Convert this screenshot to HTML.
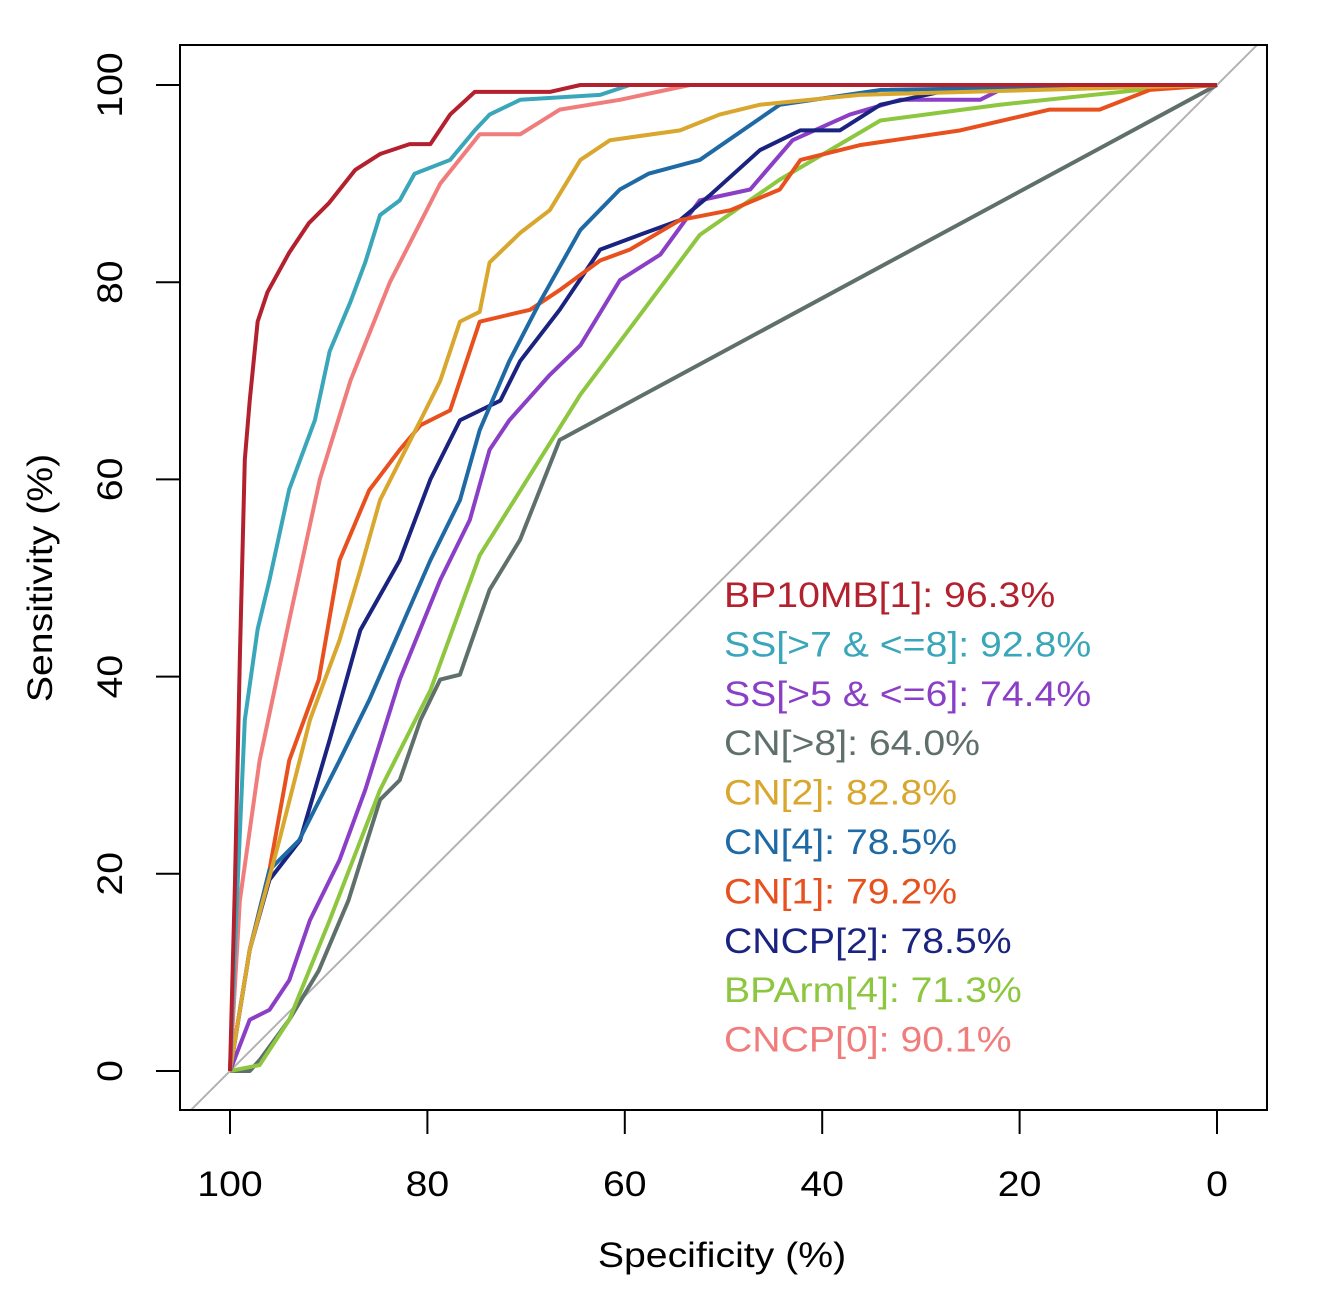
<!DOCTYPE html>
<html><head><meta charset="utf-8"><style>
html,body{margin:0;padding:0;background:#fff;}
svg text{font-family:"Liberation Sans",sans-serif;}
</style></head><body>
<svg id="chart" width="1320" height="1295" viewBox="0 0 1320 1295" xmlns="http://www.w3.org/2000/svg">
<defs><clipPath id="plotclip"><rect x="180" y="45" width="1087" height="1065"/></clipPath></defs>
<rect x="0" y="0" width="1320" height="1295" fill="#fff"/>
<g id="lines" clip-path="url(#plotclip)"></g>
<rect x="180" y="45" width="1087" height="1065" fill="none" stroke="#000" stroke-width="2"/>
<g id="axes"></g>
<g id="legend"></g>
<text x="722" y="1267" font-size="35" text-anchor="middle">Specificity (%)</text>
<text transform="translate(52,578) rotate(-90)" font-size="35" text-anchor="middle">Sensitivity (%)</text>
</svg>
<script>
const xTicks=[100,80,60,40,20,0];
const yTicks=[0,20,40,60,80,100];
const seriesNames=["BP10MB[1]","SS[>7 & <=8]","SS[>5 & <=6]","CN[>8]","CN[2]","CN[4]","CN[1]","CNCP[2]","BPArm[4]","CNCP[0]"];
const seriesAUC=["96.3%","92.8%","74.4%","64.0%","82.8%","78.5%","79.2%","78.5%","71.3%","90.1%"];
const seriesColors=["#B3202E","#3AA6B9","#8A3FC6","#5F706C","#D9A62E","#1F6AA5","#E8501E","#1A2380","#8DC63F","#F07C7C"];
const specBP10MB=[100,99.5,99,98.5,98,97.2,96.2,94,92,90,87.3,84.8,81.8,79.7,77.7,75.2,67.6,64.5,0];
const sensBP10MB=[0,19,42,62,68,76,79,83,86,88,91.4,93,94,94,97,99.3,99.3,100,100];
const specSS78=[100,99.3,98.5,97.2,96,94,91.4,89.9,87.8,86.3,84.8,82.8,81.3,77.7,75.2,73.7,70.6,62.5,59.5,0];
const sensSS78=[0,17.3,35.6,44.8,49.8,59,66,73,78,82,86.8,88.3,91,92.4,95.4,97,98.5,99,100,100];
const specSS56=[100,98,96,94,91.9,88.9,86.3,82.8,78.7,75.7,73.7,71.7,67.6,64.5,60.5,56.4,52.4,47.3,43,37.2,32.1,24,22,0];
const sensSS56=[0,5.2,6.2,9.2,15.3,21.4,28.5,39.7,49.8,55.9,63,66,70.6,73.6,80.2,82.8,88.3,89.4,94.4,97,98.5,98.5,99.5,100];
const specCN8=[100,98,97,94,91,88,84.8,82.8,80.7,78.7,76.7,73.7,70.6,66.6,0];
const sensCN8=[0,0,1.1,5.2,10.2,17.3,27.5,29.5,35.6,39.7,40.2,48.8,53.9,64,100];
const specCN2=[100,98,95,91.9,88.9,86.8,84.8,80.7,78.7,76.7,74.7,73.7,70.6,67.6,64.5,61.5,54.4,50.4,46.3,36.2,0];
const sensCN2=[0,12.3,23.4,35.6,43.7,50.8,57.9,66,70,76,77,82,85,87.3,92.4,94.4,95.4,97,98,99,100];
const specCN4=[100,98,96,93,88.9,85.9,82.8,79.7,76.7,74.7,71.7,68.6,64.5,60.5,57.6,52.4,44.3,34.1,0];
const sensCN4=[0,12.3,20.4,23.4,31.5,37.6,44.7,51.8,57.9,65,72,78,85.3,89.4,91,92.4,98,99.5,100];
const specCN1=[100,98,96,94,91,88.9,85.9,82.8,80.7,77.7,74.7,69.6,66.6,62.5,59.5,54.4,49.3,44.3,42.2,36.2,26,17,11.9,6.8,0];
const sensCN1=[0,12.3,20.4,31.5,39.7,51.8,58.9,63,65.5,67,76,77.2,79.2,82.2,83.3,86.3,87.3,89.4,92.4,93.9,95.4,97.5,97.5,99.5,100];
const specCNCP2=[100,98,96,92.9,89.9,86.8,82.8,79.7,76.7,72.6,70.6,66.6,62.5,58.5,54.4,51.4,46.3,42.2,38.2,34.1,27.1,0];
const sensCNCP2=[0,12.3,19.4,23.4,33.6,44.7,51.8,60,66,68,72,77.2,83.3,84.8,86.3,88.8,93.4,95.4,95.4,98,99.5,100];
const specBPArm=[100,97,94,89.9,84.8,79.7,74.7,64.5,52.4,44.3,34.1,22,7.8,0];
const sensBPArm=[0,0.6,5.2,15.3,28.5,38.6,52.3,68.6,84.8,90.4,96.4,98,99.5,100];
const specCNCP0=[100,99,97,94,90.9,87.8,83.8,78.7,74.7,70.6,66.6,60.5,53.4,0];
const sensCNCP0=[0,17.3,31.5,45.7,60,70,80,90,95,95,97.5,98.5,100,100];
const allSpec=[specBP10MB,specSS78,specSS56,specCN8,specCN2,specCN4,specCN1,specCNCP2,specBPArm,specCNCP0];
const allSens=[sensBP10MB,sensSS78,sensSS56,sensCN8,sensCN2,sensCN4,sensCN1,sensCNCP2,sensBPArm,sensCNCP0];
const drawOrder=[3,8,2,7,6,5,4,9,1,0];

const NS="http://www.w3.org/2000/svg";
function xScale(s){return 1217-(s)*9.87;}
function yScale(v){return 1071-(v)*9.86;}
const lines=document.getElementById('lines');
const axes=document.getElementById('axes');
const legend=document.getElementById('legend');

const diag=document.createElementNS(NS,'line');


diag.setAttribute('x1',xScale(110));diag.setAttribute('y1',yScale(-10));
diag.setAttribute('x2',xScale(-10));diag.setAttribute('y2',yScale(110));
diag.setAttribute('stroke','#b3b3b3');diag.setAttribute('stroke-width','2');
lines.appendChild(diag);

drawOrder.forEach(i=>{
  const p=document.createElementNS(NS,'polyline');
  
  
  p.setAttribute('points',allSpec[i].map((s,k)=>xScale(s)+','+yScale(allSens[i][k])).join(' '));
  p.setAttribute('fill','none');p.setAttribute('stroke',seriesColors[i]);
  p.setAttribute('stroke-width','4');p.setAttribute('stroke-linejoin','round');
  lines.appendChild(p);
});

const xl=document.createElementNS(NS,'line');


xl.setAttribute('x1',xScale(100));xl.setAttribute('x2',xScale(0));
xl.setAttribute('y1',1110);xl.setAttribute('y2',1110);xl.setAttribute('stroke','#000');xl.setAttribute('stroke-width','2');
axes.appendChild(xl);
xTicks.forEach(t=>{
  const l=document.createElementNS(NS,'line');
  
  
  l.setAttribute('x1',xScale(t));l.setAttribute('x2',xScale(t));l.setAttribute('y1',1110);l.setAttribute('y2',1134);
  l.setAttribute('stroke','#000');l.setAttribute('stroke-width','2');axes.appendChild(l);
  const tx=document.createElementNS(NS,'text');
  
  
  tx.setAttribute('x',xScale(t));tx.setAttribute('y',1196);tx.setAttribute('font-size','35');tx.setAttribute('text-anchor','middle');
  tx.textContent=t;axes.appendChild(tx);
});
const yl=document.createElementNS(NS,'line');


yl.setAttribute('x1',180);yl.setAttribute('x2',180);
yl.setAttribute('y1',yScale(0));yl.setAttribute('y2',yScale(100));yl.setAttribute('stroke','#000');yl.setAttribute('stroke-width','2');
axes.appendChild(yl);
yTicks.forEach(t=>{
  const l=document.createElementNS(NS,'line');
  
  
  l.setAttribute('x1',156);l.setAttribute('x2',180);l.setAttribute('y1',yScale(t));l.setAttribute('y2',yScale(t));
  l.setAttribute('stroke','#000');l.setAttribute('stroke-width','2');axes.appendChild(l);
  const tx=document.createElementNS(NS,'text');
  
  
  tx.setAttribute('transform','translate(122,'+yScale(t)+') rotate(-90)');
  tx.setAttribute('font-size','35');tx.setAttribute('text-anchor','middle');
  tx.textContent=t;axes.appendChild(tx);
});
seriesNames.forEach((n,i)=>{
  const tx=document.createElementNS(NS,'text');
  
  
  tx.setAttribute('x',724);tx.setAttribute('y',607+i*49.4);
  tx.setAttribute('font-size','35');tx.setAttribute('fill',seriesColors[i]);
  tx.textContent=n+': '+seriesAUC[i];legend.appendChild(tx);
});
document.querySelectorAll('svg text').forEach(t=>{
  const w=t.getComputedTextLength();
  if(w>0){t.setAttribute('textLength',(w*1.12).toFixed(1));t.setAttribute('lengthAdjust','spacingAndGlyphs');}
});
</script>
</body></html>
